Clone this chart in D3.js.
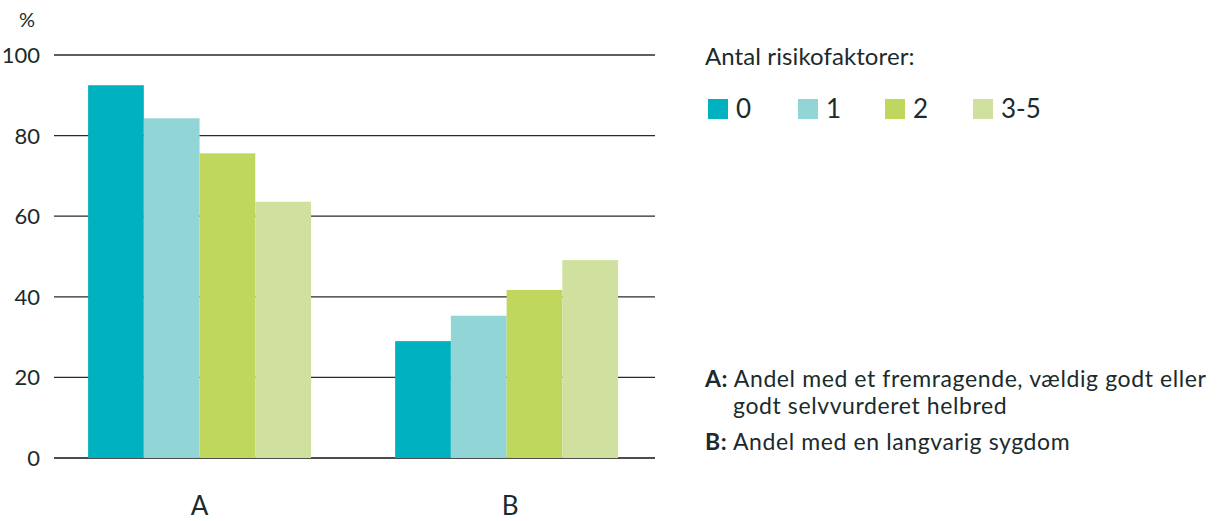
<!DOCTYPE html>
<html>
<head>
<meta charset="utf-8">
<script src="https://cdn.jsdelivr.net/npm/d3@7"></script>
<style>
  html, body { margin: 0; padding: 0; background: #fff; }
  svg text { font-family: Lato, "Open Sans", sans-serif; fill: #1b2b2c; }
</style>
</head>
<body>
<svg id="chart" width="1218" height="521"></svg>
<script>
// Groups and series
const groups = ["A", "B"];
const seriesNames = ["0", "1", "2", "3-5"];
const seriesColors = ["#00b2c0", "#92d5d6", "#c0d75d", "#cfe09f"];

// Share (%) per group, one array per number of risk factors
const values0 = [92.5, 29];
const values1 = [84.3, 35.3];
const values2 = [75.6, 41.7];
const values35 = [63.6, 49.1];

const yTicks = [0, 20, 40, 60, 80, 100];
const legendTitle = "Antal risikofaktorer:";
const notes = [
  { key: "A:", lines: ["Andel med et fremragende, vældig godt eller", "godt selvvurderet helbred"] },
  { key: "B:", lines: ["Andel med en langvarig sygdom"] }
];

const seriesValues = [values0, values1, values2, values35];
const rows = groups.map((g, i) => ({
  group: g,
  vals: seriesNames.map((s, j) => ({ series: s, color: seriesColors[j], value: seriesValues[j][i] }))
}));

const svg = d3.select("#chart");
const plot = { left: 54, right: 655, top: 55, bottom: 458 };

const x = d3.scaleBand().domain(groups).range([plot.left, plot.right])
  .paddingInner(0.274).paddingOuter(0.1157).align(0.48);
const xInner = d3.scaleBand().domain(seriesNames).range([0, x.bandwidth()]).padding(0);
const y = d3.scaleLinear().domain([0, 100]).range([plot.bottom, plot.top]);

// Gridlines
svg.append("g").selectAll("line").data(yTicks).join("line")
  .attr("x1", plot.left).attr("x2", plot.right)
  .attr("y1", d => y(d)).attr("y2", d => y(d))
  .attr("stroke", d => d === 0 ? "#4d4d4d" : "#2a2a2a")
  .attr("stroke-width", d => d === 0 ? 2 : 1.3);

// Y tick labels
svg.append("g").selectAll("text").data(yTicks).join("text")
  .attr("x", 40).attr("y", d => y(d)).attr("dy", "0.36em")
  .attr("text-anchor", "end").attr("font-size", 22)
  .text(d => d);

svg.append("text").attr("x", 27).attr("y", 27)
  .attr("text-anchor", "middle").attr("font-size", 20).text("%");

// Bars
const gGroups = svg.append("g").selectAll("g").data(rows).join("g")
  .attr("transform", d => `translate(${x(d.group)},0)`);
gGroups.selectAll("rect").data(d => d.vals).join("rect")
  .attr("x", d => xInner(d.series))
  .attr("width", xInner.bandwidth())
  .attr("y", d => y(d.value))
  .attr("height", d => y(0) - y(d.value))
  .attr("fill", d => d.color);

// Category labels
svg.append("g").selectAll("text").data(groups).join("text")
  .attr("x", d => x(d) + x.bandwidth() / 2 + (d === "B" ? 3.5 : 0)).attr("y", 515)
  .attr("text-anchor", "middle").attr("font-size", 26)
  .text(d => d);

// Legend
svg.append("text").attr("x", 705).attr("y", 65).attr("font-size", 24)
  .attr("letter-spacing", 0.1).text(legendTitle);
const legendX = [708, 798, 885, 973];
const lg = svg.append("g").selectAll("g").data(seriesNames).join("g")
  .attr("transform", (d, i) => `translate(${legendX[i]},99)`);
lg.append("rect").attr("width", 20).attr("height", 20)
  .attr("fill", (d, i) => seriesColors[i]);
lg.append("text").attr("x", 28).attr("y", 19).attr("font-size", 26).text(d => d);

// Notes
const noteY = [387, 450];
notes.forEach((n, i) => {
  const t = svg.append("text").attr("x", 705).attr("y", noteY[i])
    .attr("font-size", 23).attr("letter-spacing", 0.6);
  t.append("tspan").attr("font-weight", 700).text(n.key);
  t.append("tspan").text(" " + n.lines[0]);
  if (n.lines[1]) {
    svg.append("text").attr("x", 733).attr("y", noteY[i] + 27)
      .attr("font-size", 23).attr("letter-spacing", 0.6).text(n.lines[1]);
  }
});
</script>
</body>
</html>
